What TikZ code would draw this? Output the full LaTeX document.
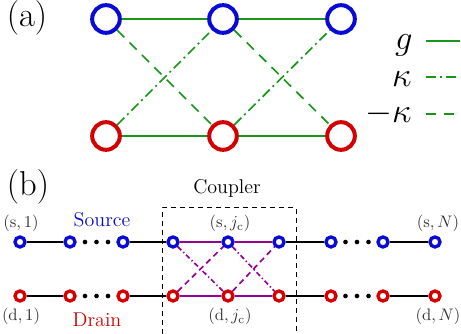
\documentclass[tikz,border=0pt]{standalone}
\usepackage{amsmath}
\usepackage{tikz}
\usetikzlibrary{calc}
\definecolor{siteblue}{RGB}{10,10,215}
\definecolor{sitered}{RGB}{210,0,0}
\definecolor{hopgreen}{RGB}{25,150,25}
\definecolor{couppurple}{RGB}{150,0,150}

\begin{document}
\begin{tikzpicture}[x=0.6pt,y=-0.6pt,
  bigsite/.style={circle,draw,line width=2.4pt,minimum size=16.6pt,inner sep=0pt},
  smallsite/.style={circle,draw,line width=2pt,minimum size=6pt,inner sep=0pt},
  gline/.style={hopgreen,line width=1pt},
  kline/.style={gline,dash pattern=on 6pt off 2.4pt on 1.2pt off 2.4pt},
  mkline/.style={gline,dash pattern=on 6pt off 4.5pt},
  chain/.style={black,line width=1.3pt},
  pline/.style={couppurple,line width=1pt},
  pkline/.style={pline,dash pattern=on 3pt off 1.6pt on 0.8pt off 1.6pt},
  pmkline/.style={pline,dash pattern=on 3.5pt off 2.5pt},
  sitelabel/.style={anchor=base,text=black!80,inner sep=0pt},
  legend/.style={anchor=base east,inner sep=0pt,font=\fontsize{22}{26}\selectfont},
  ]
\useasboundingbox (0,0) rectangle (461,334);

% (a) three-site coupler
\node[anchor=base,inner sep=0pt] (laba) at (27,27) {\huge (a)};
\node[bigsite,siteblue] (top1) at (106,19) {};
\node[bigsite,siteblue] (top2) at (223,19) {};
\node[bigsite,siteblue] (top3) at (341,19) {};
\node[bigsite,sitered] (bot1) at (106,136) {};
\node[bigsite,sitered] (bot2) at (223,136) {};
\node[bigsite,sitered] (bot3) at (341,136) {};
\draw[gline] (top1) -- (top2);
\draw[gline] (top2) -- (top3);
\draw[gline] (bot1) -- (bot2);
\draw[gline] (bot2) -- (bot3);
\draw[mkline] (top1) -- (bot2);
\draw[mkline] (top2) -- (bot3);
\draw[kline] (bot1) -- (top2);
\draw[kline] (bot2) -- (top3);

% legend
\node[legend] (gsym) at (413,50) {$g$};
\node[legend] (ksym) at (412,87) {$\kappa$};
\node[legend] (mksym) at (412,123) {$-\kappa$};
\coordinate (gstart) at (426,41);
\coordinate (gend) at (460,41);
\coordinate (kstart) at (426,77);
\coordinate (kend) at (460,77);
\coordinate (mkstart) at (426,114);
\coordinate (mkend) at (460,114);
\draw[gline] (gstart) -- (gend);
\draw[kline] (kstart) -- (kend);
\draw[mkline] (mkstart) -- (mkend);

% (b) source and drain chains
\node[anchor=base,inner sep=0pt] (labb) at (28,196) {\huge (b)};
\foreach \x [count=\i] in {20,70,123,173,228,279,331,383,435} {
  \node[smallsite,siteblue] (s\i) at (\x,242) {};
  \node[smallsite,sitered] (d\i) at (\x,296) {};
}
\foreach \a/\b in {1/2,3/4,6/7,8/9} {
  \draw[chain] (s\a) -- (s\b);
  \draw[chain] (d\a) -- (d\b);
}
\foreach \a/\b in {4/5,5/6} {
  \draw[pline] (s\a) -- (s\b);
  \draw[pline] (d\a) -- (d\b);
  \draw[pkline] (s\a) -- (d\b);
  \draw[pmkline] (d\a) -- (s\b);
}
\foreach \a/\b in {2/3,7/8} {
  \foreach \k in {-1,0,1} {
    \fill ($(s\a)!0.5!(s\b)$) ++(\k*11.5,0) circle[radius=1.4pt];
    \fill ($(d\a)!0.5!(d\b)$) ++(\k*11.5,0) circle[radius=1.4pt];
  }
}

% coupler box
\coordinate (boxbl) at (162,334);
\coordinate (boxtr) at (296,208);
\draw[black,line width=0.6pt,dash pattern=on 3pt off 2.4pt] (boxbl) |- (boxtr) -- (boxtr |- boxbl);
\node[anchor=base,inner sep=0pt] (coupler) at (227,194) {\large Coupler};

% site labels
\node[sitelabel] (ls1) at (21,228) {$(\mathrm{s},1)$};
\node[sitelabel] (lsc) at (230,228) {$(\mathrm{s},j_{\mathrm{c}})$};
\node[sitelabel] (lsN) at (438,228) {$(\mathrm{s},N)$};
\node[sitelabel] (ld1) at (21,321) {$(\mathrm{d},1)$};
\node[sitelabel] (ldc) at (230,321) {$(\mathrm{d},j_{\mathrm{c}})$};
\node[sitelabel] (ldN) at (438,321) {$(\mathrm{d},N)$};
\node[anchor=base,inner sep=0pt,text=siteblue] (source) at (102,227) {\large Source};
\node[anchor=base,inner sep=0pt,text=sitered] (drain) at (97,327) {\large Drain};
\end{tikzpicture}
\end{document}
